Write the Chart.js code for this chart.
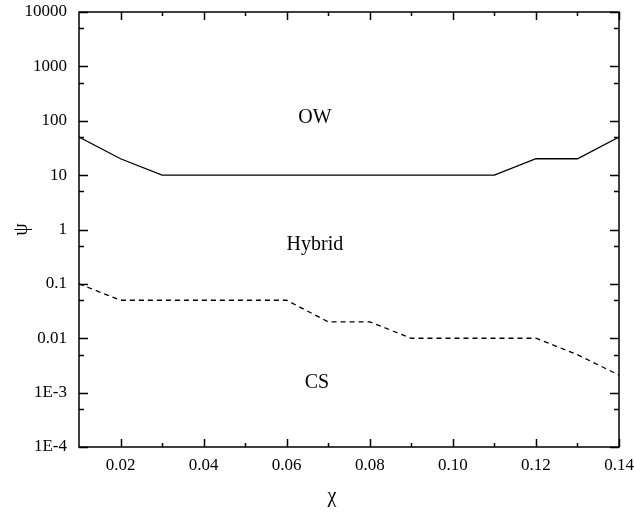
<!DOCTYPE html>
<html lang="en">
<head>
<meta charset="utf-8">
<title>psi - chi regimes</title>
<script src="https://cdn.jsdelivr.net/npm/chart.js@4"></script>
<style>
  body { margin: 0; background: #fff; }
  canvas { display: block; }
</style>
</head>
<body>
<canvas id="myChart" width="634" height="514"></canvas>
<script>
// boundary between OW and Hybrid (solid)
const chiOW = [0.01, 0.02, 0.03, 0.11, 0.12, 0.13, 0.14];
const psiOW = [50, 20, 10, 10, 20, 20, 50];
// boundary between Hybrid and CS (dashed)
const chiCS = [0.01, 0.02, 0.06, 0.07, 0.08, 0.09, 0.12, 0.13, 0.14];
const psiCS = [0.1, 0.05, 0.05, 0.02, 0.02, 0.01, 0.01, 0.005, 0.0021];

const xTicks = [0.02, 0.04, 0.06, 0.08, 0.10, 0.12, 0.14];
const xMinor = [0.03, 0.05, 0.07, 0.09, 0.11, 0.13];
const yTicks = [1e-4, 1e-3, 0.01, 0.1, 1, 10, 100, 1000, 10000];
const yTickLabels = ['1E-4', '1E-3', '0.01', '0.1', '1', '10', '100', '1000', '10000'];
const yMinor = [5e-4, 5e-3, 0.05, 0.5, 5, 50, 500, 5000];

const regionNames = ['OW', 'Hybrid', 'CS'];
const regionChi = [0.0668, 0.0668, 0.0673];
const regionPsi = [115, 0.52, 0.0015];

const xTitle = 'χ';
const serif = "'Liberation Serif', 'Times New Roman', serif";

function toXY(xs, ys) {
  return xs.map((x, i) => ({ x: x, y: ys[i] }));
}

// frame, inward ticks on all four sides, region names, x title
const framePlugin = {
  id: 'frame',
  afterDraw(chart) {
    const c = chart.ctx;
    const a = chart.chartArea;
    const xs = chart.scales.x, ys = chart.scales.y;
    c.save();
    c.strokeStyle = '#000';
    c.lineWidth = 1.5;
    c.strokeRect(a.left, a.top, a.right - a.left, a.bottom - a.top);
    c.beginPath();
    const tick = (vals, len, horiz) => {
      vals.forEach(v => {
        if (horiz) {
          const p = Math.round(xs.getPixelForValue(v)) + 0.5;
          c.moveTo(p, a.bottom); c.lineTo(p, a.bottom - len);
          c.moveTo(p, a.top); c.lineTo(p, a.top + len);
        } else {
          const p = Math.round(ys.getPixelForValue(v)) + 0.5;
          c.moveTo(a.left, p); c.lineTo(a.left + len, p);
          c.moveTo(a.right, p); c.lineTo(a.right - len, p);
        }
      });
    };
    tick(xTicks, 8, true);
    tick(xMinor, 4, true);
    tick(yTicks, 9, false);
    tick(yMinor, 5, false);
    c.stroke();

    c.fillStyle = '#000';
    c.font = '20px ' + serif;
    c.textAlign = 'center';
    c.textBaseline = 'middle';
    regionNames.forEach((t, i) => {
      c.fillText(t, xs.getPixelForValue(regionChi[i]), ys.getPixelForValue(regionPsi[i]));
    });
    // axis title sits a bit left of the plot centre in the original
    c.fillText(xTitle, (a.left + a.right) / 2 - 17, chart.height - 17);
    c.restore();
  }
};

new Chart(document.getElementById('myChart'), {
  type: 'line',
  data: {
    datasets: [{
      label: 'OW / Hybrid',
      data: toXY(chiOW, psiOW),
      borderColor: '#000',
      borderWidth: 1.3,
      pointRadius: 0,
      tension: 0
    }, {
      label: 'Hybrid / CS',
      data: toXY(chiCS, psiCS),
      borderColor: '#000',
      borderWidth: 1.3,
      borderDash: [5, 4],
      pointRadius: 0,
      tension: 0
    }]
  },
  options: {
    responsive: false,
    devicePixelRatio: 1,
    animation: false,
    layout: { padding: { top: 12, right: 15, left: 0, bottom: 0 } },
    plugins: {
      legend: { display: false },
      tooltip: { enabled: false }
    },
    scales: {
      x: {
        type: 'linear',
        min: 0.01,
        max: 0.14,
        afterBuildTicks: s => { s.ticks = xTicks.map(v => ({ value: v })); },
        afterFit: s => { s.height = 67; s.paddingLeft = 0; s.paddingRight = 0; },
        grid: { display: false, drawTicks: false },
        border: { display: false },
        ticks: {
          color: '#000',
          font: { family: serif, size: 17 },
          padding: 8,
          maxRotation: 0,
          autoSkip: false,
          callback: v => v.toFixed(2)
        }
      },
      y: {
        type: 'logarithmic',
        min: 1e-4,
        max: 1e4,
        afterBuildTicks: s => { s.ticks = yTicks.map(v => ({ value: v })); },
        afterFit: s => { s.width = 79; s.paddingTop = 0; s.paddingBottom = 0; },
        grid: { display: false, drawTicks: false },
        border: { display: false },
        ticks: {
          color: '#000',
          font: { family: serif, size: 17 },
          padding: 12,
          autoSkip: false,
          callback: v => {
            const i = yTicks.findIndex(t => Math.abs(t - v) / t < 1e-6);
            return i >= 0 ? yTickLabels[i] : '';
          }
        },
        title: {
          display: true,
          text: 'ψ',
          color: '#000',
          font: { family: serif, size: 20 },
          padding: { top: 10, bottom: 0 }
        }
      }
    }
  },
  plugins: [framePlugin]
});
</script>
</body>
</html>
